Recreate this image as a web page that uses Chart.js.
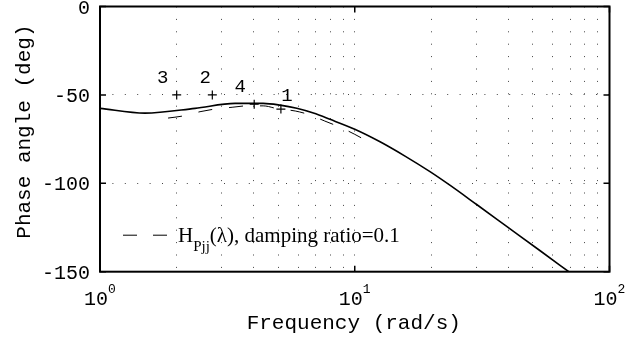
<!DOCTYPE html>
<html><head><meta charset="utf-8">
<script src="https://cdn.jsdelivr.net/npm/chart.js@4/dist/chart.umd.min.js"></script>
<style>html,body{margin:0;padding:0;background:#fff}#wrap{width:634px;height:338px}</style>
</head><body><div id="wrap"><canvas id="c" width="634" height="338"></canvas></div>
<script>
// ---- data ----
const solidFreq  = [1.0, 1.5, 2.36, 3.39, 4.37, 5.09, 5.92, 6.88, 7.99, 10.0, 12.57, 15.75, 19.74, 23.7, 30.1, 39.6, 53.6, 69.2];
const solidPhase = [-57.6, -60.3, -57.6, -54.8, -54.8, -55.8, -57.6, -60.3, -63.8, -69.4, -76.5, -84.6, -93.4, -101.2, -112.0, -124.5, -138.3, -150.0];
const dashFreq   = [1.85, 2.12, 2.47, 2.83, 3.30, 3.78, 4.37, 5.0, 5.84, 6.69, 7.63, 8.76, 10.0, 11.3];
const dashPhase  = [-63.1, -61.9, -59.5, -58.0, -57.0, -56.2, -56.2, -57.9, -59.1, -61.4, -64.8, -68.3, -72.3, -76.5];
const markFreq   = [2.0, 2.76, 4.03, 5.13];
const markPhase  = [-50, -50, -55.3, -58.0];
const markLabels = ['3', '2', '4', '1'];
const xTickValues = [1,2,3,4,5,6,7,8,9,10,20,30,40,50,60,70,80,90,100];
const xMajorTicks = [1, 10, 100];
const yTicks = [0, -50, -100, -150];
const xTitle = 'Frequency (rad/s)';
const yTitle = 'Phase angle (deg)';
const legendMain = 'H';
const legendSub = 'Pjj';
const legendRest = '(\u03bb), damping ratio=0.1';

const MONO = '"Liberation Mono", "Courier New", monospace';
const SERIF = '"Liberation Serif", "Times New Roman", serif';
const labelOffsets = [[-14,-17],[-7,-17],[-14,-17.5],[6,-13]];

const decor = {
  id: 'decor',
  afterDraw(chart) {
    const ctx = chart.ctx, a = chart.chartArea;
    const xs = chart.scales.x, ys = chart.scales.y;
    ctx.save();
    // frame
    ctx.strokeStyle = '#000'; ctx.lineWidth = 2; ctx.setLineDash([]);
    ctx.strokeRect(a.left, a.top, a.right - a.left, a.bottom - a.top);
    // inward major ticks
    ctx.lineWidth = 1.5;
    ctx.beginPath();
    xMajorTicks.forEach(v => {
      const p = xs.getPixelForValue(v);
      ctx.moveTo(p, a.bottom); ctx.lineTo(p, a.bottom - 6);
      ctx.moveTo(p, a.top); ctx.lineTo(p, a.top + 6);
    });
    yTicks.forEach(v => {
      const p = ys.getPixelForValue(v);
      ctx.moveTo(a.left, p); ctx.lineTo(a.left + 6, p);
      ctx.moveTo(a.right, p); ctx.lineTo(a.right - 6, p);
    });
    ctx.stroke();
    ctx.fillStyle = '#000';
    // y tick labels
    ctx.font = '20px ' + MONO; ctx.textAlign = 'right'; ctx.textBaseline = 'alphabetic';
    yTicks.forEach(v => {
      const p = ys.getPixelForValue(v);
      ctx.fillText(String(v), a.left - 10, p + 7);
    });
    // x tick labels 10^n
    ctx.textAlign = 'left';
    xMajorTicks.forEach(v => {
      const p = xs.getPixelForValue(v);
      const e = String(Math.round(Math.log10(v)));
      ctx.font = '20px ' + MONO; const w1 = ctx.measureText('10').width;
      ctx.font = '13px ' + MONO; const w2 = ctx.measureText(e).width;
      const s = p - (w1 + w2) / 2;
      ctx.font = '20px ' + MONO; ctx.fillText('10', s, a.bottom + 33.5);
      ctx.font = '13px ' + MONO; ctx.fillText(e, s + w1, a.bottom + 21.5);
    });
    // axis titles
    ctx.font = '21px ' + MONO; ctx.textAlign = 'center';
    ctx.fillText(xTitle, (a.left + a.right) / 2 - 1, a.bottom + 57);
    ctx.save();
    ctx.translate(29.5, (a.top + a.bottom) / 2 - 7.5);
    ctx.rotate(-Math.PI / 2);
    ctx.fillText(yTitle, 0, 0);
    ctx.restore();
    // point labels
    const meta = chart.getDatasetMeta(2);
    ctx.font = '19px ' + MONO; ctx.textBaseline = 'middle'; ctx.textAlign = 'center';
    meta.data.forEach((pt, i) => {
      const o = labelOffsets[i];
      ctx.fillText(markLabels[i], pt.x + o[0], pt.y + o[1]);
    });
    // legend
    const lx = a.left + 23, ly = a.bottom - 36.5;
    ctx.lineWidth = 1; ctx.setLineDash([14, 16]);
    ctx.beginPath(); ctx.moveTo(lx, ly); ctx.lineTo(lx + 44, ly); ctx.stroke();
    ctx.setLineDash([]);
    ctx.textAlign = 'left'; ctx.textBaseline = 'alphabetic';
    let tx = lx + 55; const base = a.bottom - 30;
    ctx.font = '21px ' + SERIF; ctx.fillText(legendMain, tx, base); tx += ctx.measureText(legendMain).width;
    ctx.font = '15px ' + SERIF; ctx.fillText(legendSub, tx, base + 9.5); tx += ctx.measureText(legendSub).width;
    ctx.font = '21px ' + SERIF; ctx.fillText(legendRest, tx, base);
    ctx.restore();
  }
};

const gridCommon = { color: '#444', lineWidth: 1, drawTicks: false };

new Chart(document.getElementById('c'), {
  type: 'line',
  data: {
    datasets: [
      { data: solidFreq.map((f, i) => ({ x: f, y: solidPhase[i] })), borderColor: '#000', borderWidth: 1.6,
        pointRadius: 0, cubicInterpolationMode: 'monotone', fill: false },
      { data: dashFreq.map((f, i) => ({ x: f, y: dashPhase[i] })), borderColor: '#000', borderWidth: 1,
        borderDash: [14, 17], pointRadius: 0, cubicInterpolationMode: 'monotone', fill: false },
      { data: markFreq.map((f, i) => ({ x: f, y: markPhase[i] })), showLine: false, pointStyle: 'cross',
        pointRadius: 4.5, pointBorderColor: '#000', pointBorderWidth: 1.2, pointBackgroundColor: '#000' }
    ]
  },
  options: {
    responsive: false, animation: false, devicePixelRatio: 1,
    layout: { padding: { left: 0, right: 24.5, top: 6.5, bottom: 0 } },
    plugins: { legend: { display: false }, tooltip: { enabled: false } },
    scales: {
      x: {
        type: 'logarithmic', min: 1, max: 100,
        afterBuildTicks: s => { s.ticks = xTickValues.map(v => ({ value: v })); },
        ticks: { display: false },
        grid: gridCommon,
        border: { display: false, dash: [1, 11.4] },
        afterFit: s => { s.height = 66.3; s.paddingLeft = 0; s.paddingRight = 0; }
      },
      y: {
        min: -150, max: 0,
        afterBuildTicks: s => { s.ticks = yTicks.map(v => ({ value: v })); },
        ticks: { display: false },
        grid: gridCommon,
        border: { display: false, dash: [1, 11.4] },
        afterFit: s => { s.width = 100; s.paddingTop = 0; s.paddingBottom = 0; }
      }
    }
  },
  plugins: [decor]
});
</script>
</body></html>
